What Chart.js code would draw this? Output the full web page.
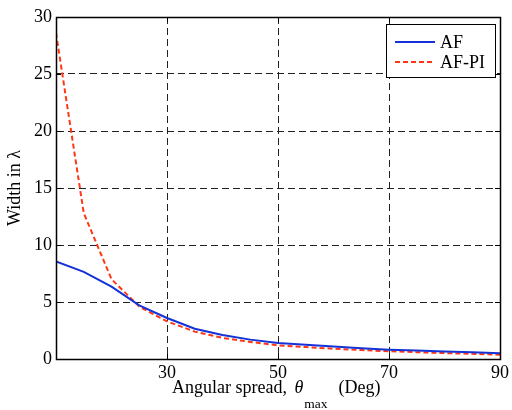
<!DOCTYPE html>
<html><head><meta charset="utf-8">
<script src="https://cdn.jsdelivr.net/npm/chart.js@4/dist/chart.umd.min.js"></script>
<style>html,body{margin:0;padding:0;background:#fff}canvas{display:block}</style>
</head><body>
<canvas id="c" width="512" height="410"></canvas>
<script>
const angles    = [10, 15, 20, 25, 30, 35, 40, 45, 50, 55, 60, 65, 70, 75, 80, 85, 90];
const afWidth   = [8.55, 7.65, 6.35, 4.7, 3.6, 2.65, 2.1, 1.7, 1.4, 1.25, 1.1, 0.95, 0.82, 0.74, 0.65, 0.6, 0.5];
const afpiWidth = [28.6, 12.8, 7.0, 4.6, 3.3, 2.4, 1.85, 1.5, 1.2, 1.05, 0.9, 0.78, 0.68, 0.6, 0.52, 0.45, 0.38];
const seriesNames = ['AF', 'AF-PI'];
const xTickValues = [30, 50, 70, 90];
const yTickValues = [0, 5, 10, 15, 20, 25, 30];
const xTitleMain = 'Angular spread, ';
const xTitleSym = 'θ';
const xTitleSub = 'max';
const xTitleEnd = '(Deg)';
const yTitleText = 'Width in λ';

const FONT = "'Liberation Serif', 'Times New Roman', serif";

const toPoints = (xs, ys) => xs.map((x, i) => ({x: x, y: ys[i]}));

const framePlugin = {
  id: 'frame',
  afterDatasetsDraw(chart) {
    const ctx = chart.ctx, a = chart.chartArea;
    const xs = chart.scales.x, ys = chart.scales.y;
    ctx.save();
    ctx.strokeStyle = '#000';
    ctx.lineWidth = 1;
    ctx.setLineDash([]);
    // inward tick marks
    ctx.beginPath();
    xTickValues.forEach(v => {
      const px = Math.round(xs.getPixelForValue(v)) + 0.5;
      ctx.moveTo(px, a.bottom); ctx.lineTo(px, a.bottom - 5);
      ctx.moveTo(px, a.top); ctx.lineTo(px, a.top + 5);
    });
    yTickValues.forEach(v => {
      const py = Math.round(ys.getPixelForValue(v)) + 0.5;
      ctx.moveTo(a.left, py); ctx.lineTo(a.left + 5, py);
      ctx.moveTo(a.right, py); ctx.lineTo(a.right - 5, py);
    });
    ctx.stroke();
    // box
    ctx.lineWidth = 1.5;
    ctx.strokeRect(Math.round(a.left) + 0.5, Math.round(a.top) + 0.5,
                   Math.round(a.right - a.left), Math.round(a.bottom - a.top));
    // legend
    const lx = a.right - 114, ly = a.top + 7, lw = 109, lh = 53;
    ctx.fillStyle = '#fff';
    ctx.fillRect(lx, ly, lw, lh);
    ctx.lineWidth = 1;
    ctx.strokeRect(lx + 0.5, ly + 0.5, lw, lh);
    chart.data.datasets.forEach((ds, i) => {
      const yy = ly + 18 + i * 20;
      ctx.beginPath();
      ctx.strokeStyle = ds.borderColor;
      ctx.lineWidth = ds.borderWidth;
      ctx.setLineDash(ds.borderDash || []);
      ctx.moveTo(lx + 9, yy); ctx.lineTo(lx + 49, yy);
      ctx.stroke();
      ctx.setLineDash([]);
      ctx.fillStyle = '#000';
      ctx.font = '18px ' + FONT;
      ctx.textBaseline = 'middle';
      ctx.textAlign = 'left';
      ctx.fillText(ds.label, lx + 54, yy + 1);
    });
    // x-axis title with subscript
    const baseY = 393;
    ctx.fillStyle = '#000';
    ctx.textBaseline = 'alphabetic';
    ctx.textAlign = 'left';
    let x = 172;
    ctx.font = '18px ' + FONT;
    ctx.fillText(xTitleMain, x, baseY);
    x += ctx.measureText(xTitleMain).width + 3;
    ctx.font = 'italic 18px ' + FONT;
    ctx.fillText(xTitleSym, x, baseY);
    x += ctx.measureText(xTitleSym).width + 1;
    ctx.font = '13.5px ' + FONT;
    ctx.fillText(xTitleSub, x, baseY + 15);
    x += ctx.measureText(xTitleSub).width + 11;
    ctx.font = '18px ' + FONT;
    ctx.fillText(xTitleEnd, x, baseY);
    ctx.restore();
  }
};

new Chart(document.getElementById('c'), {
  type: 'line',
  data: {
    datasets: [
      {label: seriesNames[0], data: toPoints(angles, afWidth), borderColor: 'rgb(20,50,215)',
       borderWidth: 2, pointRadius: 0, fill: false, tension: 0},
      {label: seriesNames[1], data: toPoints(angles, afpiWidth), borderColor: 'rgb(255,55,20)',
       borderWidth: 2, borderDash: [5, 3], pointRadius: 0, fill: false, tension: 0}
    ]
  },
  options: {
    responsive: false,
    animation: false,
    layout: {padding: {top: 17, right: 10, left: 0, bottom: 0}},
    plugins: {legend: {display: false}, tooltip: {enabled: false}},
    scales: {
      x: {
        type: 'linear', min: 10, max: 90,
        afterBuildTicks: s => { s.ticks = xTickValues.map(v => ({value: v})); },
        afterFit: s => { s.height = 51; },
        grid: {color: '#222', lineWidth: 1, drawTicks: false},
        border: {display: true, color: '#000', width: 1, dash: [7, 4]},
        ticks: {font: {family: FONT, size: 18}, color: '#000', padding: 3, maxRotation: 0}
      },
      y: {
        min: 0, max: 30,
        afterBuildTicks: s => { s.ticks = yTickValues.map(v => ({value: v})); },
        afterFit: s => { s.width = 56; },
        grid: {color: '#222', lineWidth: 1, drawTicks: false},
        border: {display: true, color: '#000', width: 1, dash: [7, 4]},
        ticks: {font: {family: FONT, size: 18}, color: '#000', padding: 4},
        title: {display: true, text: yTitleText, font: {family: FONT, size: 18}, color: '#000',
                padding: {top: 4, bottom: 0}}
      }
    }
  },
  plugins: [framePlugin]
});
</script>
</body></html>
